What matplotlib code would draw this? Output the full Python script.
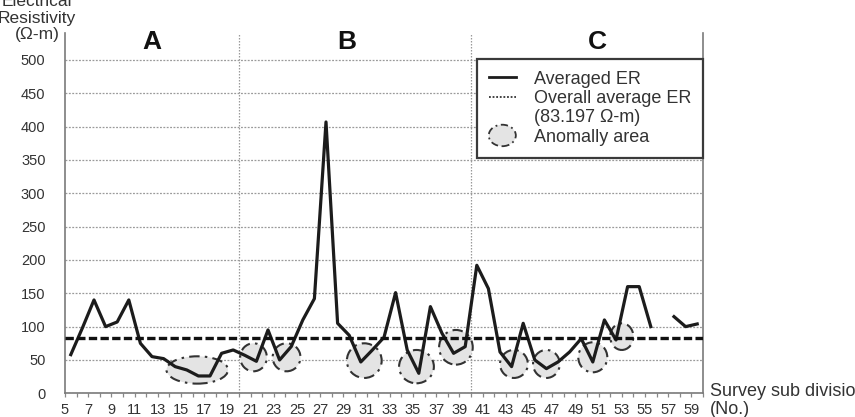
import numpy as np
import matplotlib
matplotlib.use("Agg")
import matplotlib.pyplot as plt
from matplotlib.patches import Ellipse
from matplotlib.lines import Line2D
from matplotlib.legend_handler import HandlerPatch

plt.rcParams['font.family'] = ['Liberation Sans', 'DejaVu Sans']

# ---- data ----
subdiv = list(range(5, 60))
averaged_er = [58, 98, 140, 100, 107, 140, 75, 55, 52, 40, 35, 26, 26, 60, 65,
               57, 48, 95, 50, 70, 110, 142, 407, 105, 87, 47, 65, 84, 151, 65,
               30, 130, 90, 60, 70, 192, 157, 62, 40, 105, 50, 37, 47, 62, 82,
               47, 110, 80, 160, 160, 100, np.nan, 115, 100, 104]
overall_avg = 83.197
section_names = ['A', 'B', 'C']
section_label_x = [12.0, 28.8, 50.4]
section_bounds = [19.5, 39.5]
tick_label_values = list(range(5, 60, 2))
# anomaly areas: centre (subdivision, ER), extent (subdivisions, ER)
anom_x = [15.9, 20.75, 23.6, 30.3, 34.8, 38.2, 43.2, 46.0, 50.0, 52.5]
anom_y = [35, 54, 54, 49, 40, 69, 44, 44, 54, 85]
anom_w = [5.3, 2.3, 2.4, 3.0, 3.0, 2.9, 2.4, 2.3, 2.5, 2.0]
anom_h = [41, 42, 42, 52, 50, 52, 42, 42, 45, 40]

W, H = 855, 417
fig = plt.figure(figsize=(W / 100, H / 100), dpi=100)
fig.patch.set_facecolor('white')
ax = fig.add_axes([65 / W, (H - 393.3) / H, (703 - 65) / W, (393.3 - 33.3) / H])
ax.set_xlim(4.5, 59.5)
ax.set_ylim(0, 540)

# grid
ax.set_yticks(range(0, 501, 50))
ax.yaxis.grid(True, color='#9a9a9a', linestyle=(0, (1.5, 1.2)), linewidth=0.9)
ax.set_axisbelow(True)
for b in section_bounds:
    ax.axvline(b, color='#9a9a9a', linestyle=(0, (1.2, 1.2)), linewidth=0.9, zorder=1)

# anomaly ellipses
for x, y, w, h in zip(anom_x, anom_y, anom_w, anom_h):
    ax.add_patch(Ellipse((x, y), w, h, facecolor='#e4e4e4', edgecolor='#333333',
                         linestyle=(0, (5, 2.5, 1.2, 2.5)), linewidth=1.5, zorder=2))

# lines
ax.plot(subdiv, averaged_er, color='#1c1c1c', linewidth=2.3, zorder=4)
ax.axhline(overall_avg, color='#111111', linewidth=2.4, dashes=(2.5, 1.0), zorder=5)

# section labels
for name, xx in zip(section_names, section_label_x):
    ax.text(xx, 527, name, ha='center', va='center', fontsize=19, fontweight='bold',
            color='#111111')

# spines
ax.spines['top'].set_visible(False)
for s in ['left', 'bottom', 'right']:
    ax.spines[s].set_color('#7a7a7a')
    ax.spines[s].set_linewidth(1.2)

# ticks
ax.tick_params(axis='y', length=0, pad=14, labelsize=10.5, labelcolor='#333333')
ax.set_xticks([v - 0.5 for v in tick_label_values])
ax.set_xticklabels([str(v) for v in tick_label_values])
ax.set_xticks(np.arange(4.5, 59.6, 1.0), minor=True)
ax.tick_params(axis='x', which='both', direction='out', length=3, color='#888888',
               width=0.9, pad=4, labelsize=10.5, labelcolor='#333333')

# axis titles
fig.text(37 / W, 1 - 18 / H, "Electrical\nResistivity\n(\u03a9-m)", ha='center', va='center',
         fontsize=12.5, linespacing=1.12, color='#333333')
fig.text(710 / W, 1 - 392 / H, "Survey sub division", ha='left', va='center',
         fontsize=13, color='#333333')
fig.text(710 / W, 1 - 410 / H, "(No.)", ha='left', va='center', fontsize=13, color='#333333')


# legend
class HandlerEllipse(HandlerPatch):
    def create_artists(self, legend, orig_handle, xdescent, ydescent, width, height,
                       fontsize, trans):
        center = (0.5 * width - xdescent, 0.5 * height - ydescent)
        p = Ellipse(xy=center, width=width * 1.0, height=height * 1.7)
        self.update_prop(p, orig_handle, legend)
        p.set_transform(trans)
        return [p]


h1 = Line2D([], [], color='#1c1c1c', linewidth=2.0)
h2 = Line2D([], [], color='#333333', linewidth=1.3, linestyle=(0, (1, 1)))
h_blank = Line2D([], [], color='none')
h3 = Ellipse((0, 0), 1, 1, facecolor='#e4e4e4', edgecolor='#333333',
             linestyle=(0, (4, 2, 1, 2)), linewidth=1.3)
leg = ax.legend([h1, h2, h_blank, h3],
                ['Averaged ER', 'Overall average ER', '(83.197 \u03a9-m)', 'Anomally area'],
                handler_map={Ellipse: HandlerEllipse()},
                loc='upper right', bbox_to_anchor=(1.0, (393.3 - 59) / 360),
                borderaxespad=0, fontsize=13, frameon=True, fancybox=False,
                framealpha=1, edgecolor='#3a3a3a', handlelength=1.5,
                handletextpad=1.0, borderpad=0.65, labelspacing=0.13)
leg.get_frame().set_linewidth(1.6)
for t in leg.get_texts():
    t.set_color('#333333')
leg.set_zorder(6)

fig.savefig('out.png', dpi=100)
